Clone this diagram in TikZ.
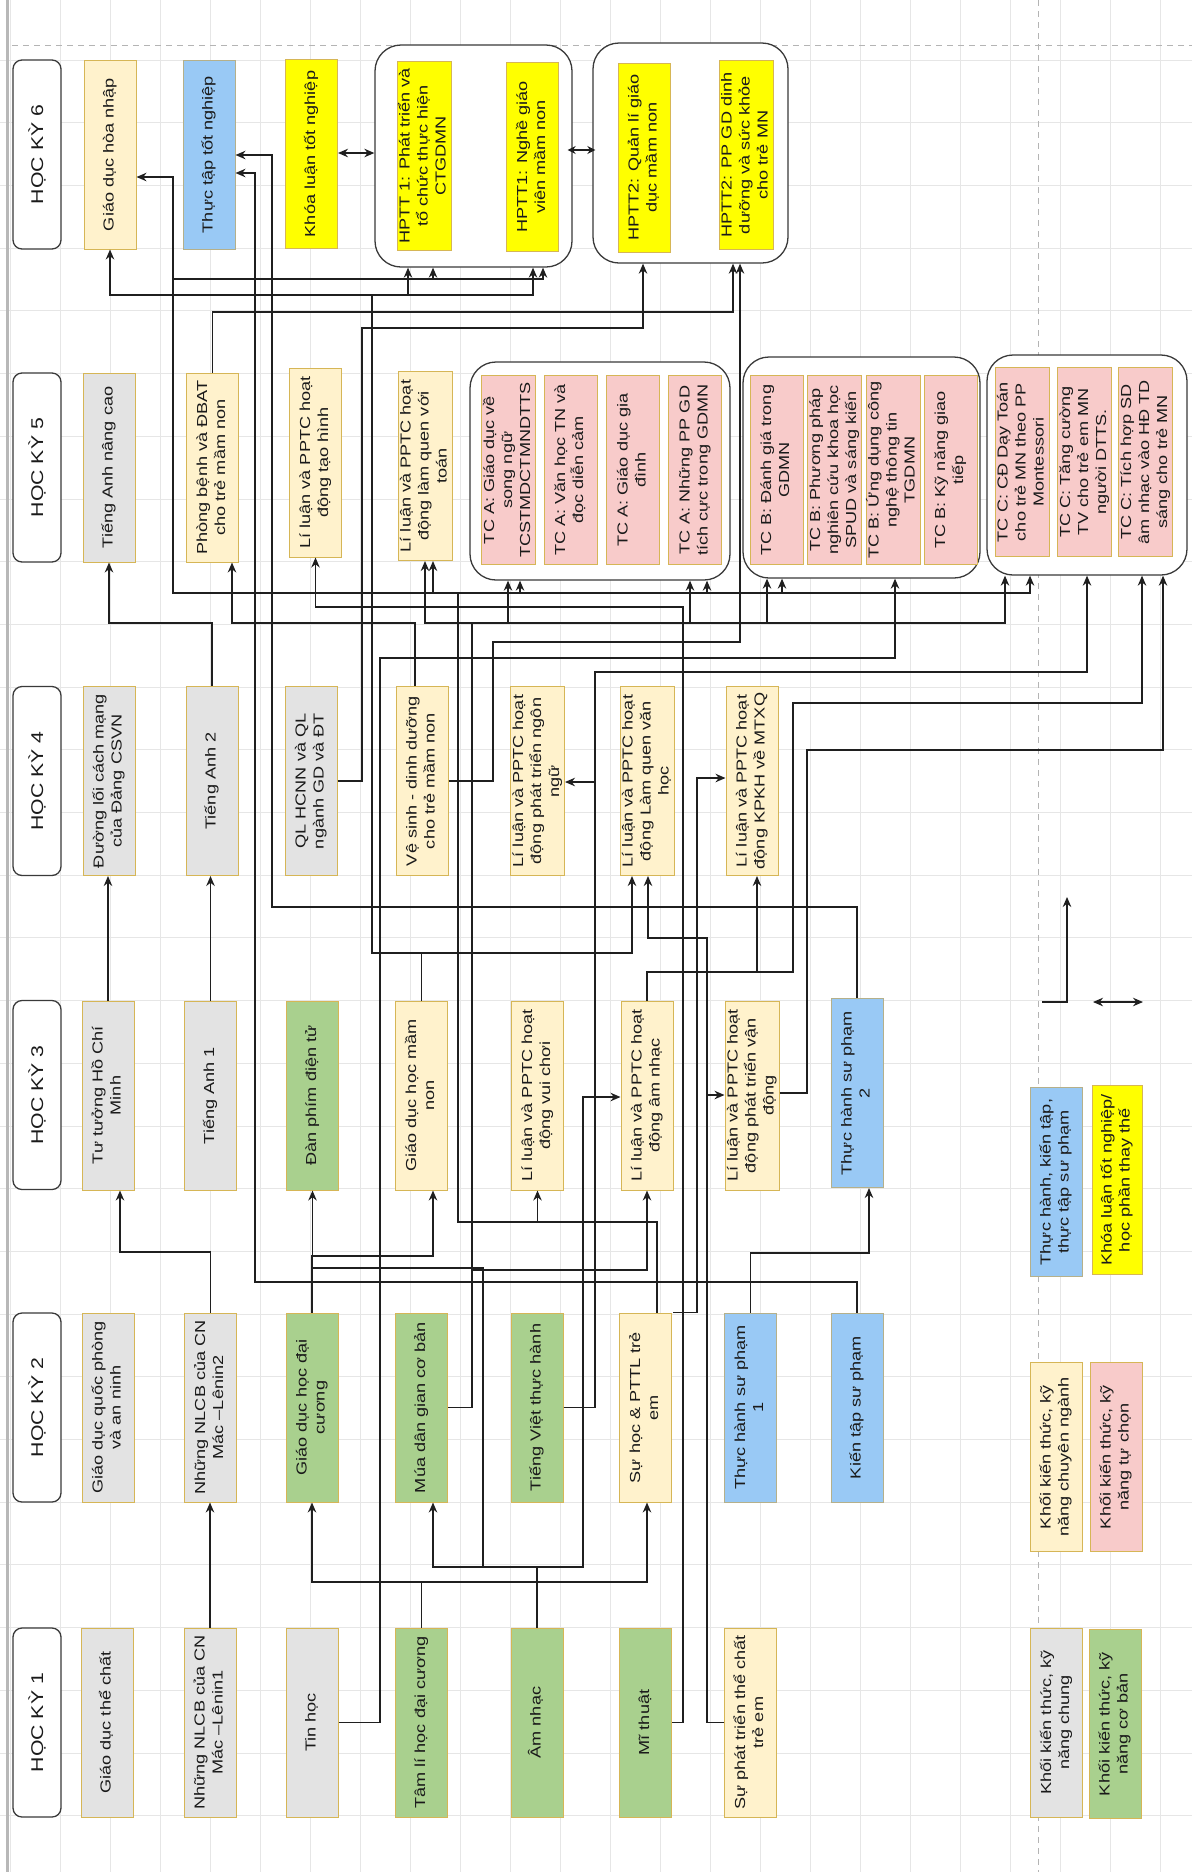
\documentclass[tikz,border=0pt]{standalone}
\usepackage{fontspec}
\setmainfont{Liberation Sans}[FakeStretch=1.25]
\usepackage{graphicx}
\usetikzlibrary{arrows.meta}

\definecolor{genc}{HTML}{E3E3E3}
\definecolor{basicc}{HTML}{A9D08E}
\definecolor{majorc}{HTML}{FFF2CC}
\definecolor{electc}{HTML}{F8CBCA}
\definecolor{pracc}{HTML}{99C9F5}
\definecolor{thesisc}{HTML}{FFFF00}
\definecolor{edgec}{HTML}{D6B656}
\definecolor{pracedge}{HTML}{B5B08A}
\definecolor{linec}{HTML}{1F1F1F}
\definecolor{framec}{HTML}{3A3A3A}
\definecolor{gridc}{HTML}{E6E6E6}
\definecolor{pagec}{HTML}{B4B4B4}
\definecolor{txtc}{HTML}{1A1A1A}

\newcommand{\vt}[1]{\rotatebox{90}{\begin{tabular}{@{}c@{}}#1\end{tabular}}}

\tikzset{
  course/.style={draw=edgec, line width=1pt, minimum width=52pt, minimum height=189pt,
    inner sep=0pt, text=txtc, font=\fontsize{14.5}{18}\selectfont},
  gen/.style={course, fill=genc},
  basic/.style={course, fill=basicc},
  major/.style={course, fill=majorc},
  elect/.style={course, fill=electc},
  prac/.style={course, fill=pracc, draw=pracedge},
  thesis/.style={course, fill=thesisc},
  sem/.style={draw=framec, fill=white, rounded corners=9pt, line width=1.3pt,
    minimum width=48pt, minimum height=189pt, inner sep=0pt, text=txtc,
    font=\fontsize{17}{20}\selectfont},
  grp/.style={draw=framec, fill=white, rounded corners=26pt, line width=1.3pt, inner sep=0pt},
  conn/.style={draw=linec, line width=1.4pt},
  arr/.style={conn, -{Stealth[length=10pt,width=8.5pt]}},
  darr/.style={conn, {Stealth[length=10pt,width=8.5pt]}-{Stealth[length=10pt,width=8.5pt]}},
  darrs/.style={conn, {Stealth[length=8pt,width=8pt]}-{Stealth[length=8pt,width=8pt]}},
}

\begin{document}
\begin{tikzpicture}[x=1pt,y=-1pt]

    \useasboundingbox (0,0) rectangle (1192,1872);
    \fill[white] (0,0) rectangle (1192,1872);

    % grid and page breaks
    \foreach \gx in {10,60,...,1160} \draw[gridc, line width=0.8pt] (\gx,0) -- (\gx,1872);
    \foreach \k in {0,...,30} \draw[gridc, line width=0.8pt] (0,{62.7*\k-2.7}) -- (1192,{62.7*\k-2.7});
    \draw[gridc!80!black, line width=3pt] (7,0) -- (7,1872);
    \draw[pagec, dash pattern=on 6pt off 5pt, line width=1pt] (12,45) -- (1192,45);
    \draw[pagec, dash pattern=on 6pt off 5pt, line width=1pt] (1038,0) -- (1038,1872);

    % semesters
    \node[sem] (hk6) at (37,154.5) {\rotatebox{90}{HỌC KỲ 6}};
    \node[sem] (hk5) at (37,467.5) {\rotatebox{90}{HỌC KỲ 5}};
    \node[sem] (hk4) at (37,781) {\rotatebox{90}{HỌC KỲ 4}};
    \node[sem] (hk3) at (37,1095) {\rotatebox{90}{HỌC KỲ 3}};
    \node[sem] (hk2) at (37,1407.5) {\rotatebox{90}{HỌC KỲ 2}};
    \node[sem] (hk1) at (37,1722.5) {\rotatebox{90}{HỌC KỲ 1}};

    % groups
    \node[grp, minimum width=197pt, minimum height=222pt] (g1) at (473.5,156) {};
    \node[grp, minimum width=195pt, minimum height=220pt] (g2) at (690.5,153) {};
    \node[grp, minimum width=260pt, minimum height=218pt] (gA) at (600,471) {};
    \node[grp, minimum width=237pt, minimum height=221pt] (gB) at (861.5,467.5) {};
    \node[grp, minimum width=200pt, minimum height=220pt] (gC) at (1087,465) {};

    % HK6
    \node[major] (gdhn) at (110,154.5) {\vt{Giáo dục hòa nhập}};
    \node[prac] (tttn) at (209,154.5) {\vt{Thực tập tốt nghiệp}};
    \node[thesis] (kltn) at (311.5,154) {\vt{Khóa luận tốt nghiệp}};
    \node[thesis] (hptt1a) at (424,156) {\vt{HPTT 1: Phát triển và\\tổ chức thực hiện\\CTGDMN}};
    \node[thesis] (hptt1b) at (532.5,157) {\vt{HPTT1: Nghề giáo\\viên mầm non}};
    \node[thesis] (hptt2a) at (644,157.5) {\vt{HPTT2: Quản lí giáo\\dục mầm non}};
    \node[thesis] (hptt2b) at (746,155) {\vt{HPTT2: PP GD dinh\\dưỡng và sức khỏe\\cho trẻ MN}};

    % HK5
    \node[gen] (tanc) at (109,467.5) {\vt{Tiếng Anh nâng cao}};
    \node[major] (phongbenh) at (212.5,467.5) {\vt{Phòng bệnh và ĐBAT\\cho trẻ mầm non}};
    \node[major] (taohinh) at (315.5,462.5) {\vt{Lí luận và PPTC hoạt\\động tạo hình}};
    \node[major] (lqtoan) at (425,466) {\vt{Lí luận và PPTC hoạt\\động làm quen với\\toán}};
    \node[elect, minimum width=53pt] (tca1) at (508.5,470) {\vt{TC A:  Giáo dục về\\song ngữ\\TCSTMDCTMNDTTS}};
    \node[elect, minimum width=53pt] (tca2) at (570.5,470) {\vt{TC A: Văn học TN và\\đọc diễn cảm}};
    \node[elect, minimum width=53pt] (tca3) at (633,470) {\vt{TC A: Giáo dục gia\\đình}};
    \node[elect, minimum width=53pt] (tca4) at (695,470) {\vt{TC A: Những PP GD\\tích cực trong GDMN}};
    \node[elect, minimum width=53pt] (tcb1) at (776.5,470) {\vt{TC B:  Đánh giá trong\\GDMN}};
    \node[elect, minimum width=53pt] (tcb2) at (834.5,470) {\vt{TC B: Phương pháp\\nghiên cứu khoa học\\SPUD và sáng kiến}};
    \node[elect, minimum width=53pt] (tcb3) at (893,470) {\vt{TC B: Ứng dụng công\\nghệ thông tin\\TGDMN}};
    \node[elect, minimum width=53pt] (tcb4) at (950.5,470) {\vt{TC B: Kỹ năng giao\\tiếp}};
    \node[elect, minimum width=53pt] (tcc1) at (1022,462) {\vt{TC C:  CĐ Dạy Toán\\cho trẻ MN theo PP\\Montessori}};
    \node[elect, minimum width=53pt] (tcc2) at (1084.5,462) {\vt{TC C: Tăng cường\\TV cho trẻ em MN\\người DTTS.}};
    \node[elect, minimum width=53pt] (tcc3) at (1145.5,462) {\vt{TC C: Tích hợp SD\\âm nhạc vào HĐ TD\\sáng cho trẻ MN}};

    % HK4
    \node[gen] (duongloi) at (109,781) {\vt{Đường lối cách mạng\\của Đảng CSVN}};
    \node[gen] (ta2) at (212,781) {\vt{Tiếng Anh 2}};
    \node[gen] (qlhcnn) at (311,781) {\vt{QL HCNN và QL\\ngành GD và ĐT}};
    \node[major] (vesinh) at (422,781) {\vt{Vệ sinh - dinh dưỡng\\cho trẻ mầm non}};
    \node[major] (ngonngu) at (537.5,781) {\vt{Lí luận và PPTC hoạt\\động phát triển ngôn\\ngữ}};
    \node[major] (vanhoc) at (647,781) {\vt{Lí luận và PPTC hoạt\\động Làm quen văn\\học}};
    \node[major] (kpkh) at (752,781) {\vt{Lí luận và PPTC hoạt\\động KPKH về MTXQ}};

    % HK3
    \node[gen] (tthcm) at (108,1095.5) {\vt{Tư tưởng Hồ Chí\\Minh}};
    \node[gen] (ta1) at (210.5,1095.5) {\vt{Tiếng Anh 1}};
    \node[basic] (danphim) at (312.5,1095.5) {\vt{Đàn phím điện tử}};
    \node[major] (gdhmn) at (421.5,1095.5) {\vt{Giáo dục học mầm\\non}};
    \node[major] (vuichoi) at (537.5,1095.5) {\vt{Lí luận và PPTC hoạt\\động vui chơi}};
    \node[major] (amnhacll) at (647,1095.5) {\vt{Lí luận và PPTC hoạt\\động âm nhạc}};
    \node[major] (vandong) at (752,1095.5) {\vt{Lí luận và PPTC hoạt\\động phát triển vận\\động}};
    \node[prac] (thsp2) at (857,1093) {\vt{Thực hành sư phạm\\2}};

    % HK2
    \node[gen] (gdqp) at (108,1407.5) {\vt{Giáo dục quốc phòng\\và an ninh}};
    \node[gen] (nlcb2) at (210.5,1407.5) {\vt{Những NLCB của CN\\Mác –Lênin2}};
    \node[basic] (gdhdc) at (312,1407.5) {\vt{Giáo dục học đại\\cương}};
    \node[basic] (muadg) at (421.5,1407.5) {\vt{Múa dân gian cơ bản}};
    \node[basic] (tvth) at (537,1407.5) {\vt{Tiếng Việt thực hành}};
    \node[major] (suhoc) at (645.5,1407.5) {\vt{Sự học \& PTTL trẻ\\em}};
    \node[prac] (thsp1) at (750.5,1407.5) {\vt{Thực hành sư phạm\\1}};
    \node[prac] (kientap) at (857,1407.5) {\vt{Kiến tập sư phạm}};

    % HK1
    \node[gen] (gdtc) at (107,1722.5) {\vt{Giáo dục thể chất}};
    \node[gen] (nlcb1) at (210,1722.5) {\vt{Những NLCB của CN\\Mác –Lênin1}};
    \node[gen] (tinhoc) at (312,1722.5) {\vt{Tin học}};
    \node[basic] (tamli) at (421.5,1722.5) {\vt{Tâm lí học đại cương}};
    \node[basic] (amnhac) at (537,1722.5) {\vt{Âm nhạc}};
    \node[basic] (mithuat) at (645.5,1722.5) {\vt{Mĩ thuật}};
    \node[major] (ptthechat) at (750.5,1722.5) {\vt{Sự phát triển thể chất\\trẻ em}};

    % legend
    \node[prac] (lgprac) at (1056,1182) {\vt{Thực hành, kiến tập,\\thực tập sư phạm}};
    \node[thesis, minimum width=50pt] (lgthesis) at (1117,1180) {\vt{Khóa luận tốt nghiệp/\\học phần thay thế}};
    \node[major] (lgmajor) at (1056,1457) {\vt{Khối kiến thức, kỹ\\năng chuyên ngành}};
    \node[elect] (lgelect) at (1116,1457) {\vt{Khối kiến thức, kỹ\\năng tự chọn}};
    \node[gen] (lggen) at (1056.5,1722.5) {\vt{Khối kiến thức, kỹ\\năng chung}};
    \node[basic] (lgbasic) at (1115,1724) {\vt{Khối kiến thức, kỹ\\năng cơ bản}};
    \coordinate (lgfoot) at (1042,1002);
    \coordinate (lgtip) at (1067,897);
    \coordinate (lgleft) at (1093,1002);
    \coordinate (lgright) at (1143,1002);
    \draw[arr] (lgfoot) -| (lgtip);
    \draw[darr] (lgleft) -- (lgright);

    % HK6 links
    \draw[darr] (kltn.east |- 0,153) -- (g1.west |- 0,153);
    \draw[darrs, shorten <=-5pt, shorten >=-3pt] (g1.east |- 0,150) -- (g2.west |- 0,150);

    % general courses
    \draw[arr] (tthcm.north) -- (tthcm.north |- duongloi.south);
    \draw[arr] (ta1.north) -- (ta1.north |- ta2.south);
    \draw[arr] (ta2.north) |- (0,623 -| tanc.south) -- (tanc.south);
    \draw[arr] (nlcb1.north) -- (nlcb1.north |- nlcb2.south);
    \draw[arr] (nlcb2.north) |- (120,1252) -- (120,0 |- tthcm.south);
    \draw[arr] (qlhcnn.east) -| (362,328) -| (643,0 |- g2.south);
    \draw[arr] (tinhoc.east) -| (380,658) -| (895,0 |- gB.south);

    % practice
    \draw[arr] (thsp1.north) |- (869,1253) -- (869,0 |- thsp2.south);
    \draw[arr] (kientap.north) |- (255,1282) -- (255,173) -- (tttn.east |- 0,173);
    \draw[arr] (thsp2.north) |- (272,907) -- (272,155) -- (tttn.east |- 0,155);

    % HK1 -> HK2, HK3
    \draw[arr] (tamli.north) |- (0,1582 -| gdhdc.south) -- (gdhdc.south);
    \draw[arr] (tamli.north) |- (647,1582) -- (647,0 |- suhoc.south);
    \draw[arr] (amnhac.north) |- (433,1567) -- (433,0 |- muadg.south);
    \draw[arr] (amnhac.north) |- (483,1567) -- (483,1268) -| (danphim.south);
    \draw[arr] (amnhac.north) |- (583,1567) -- (583,1097) -- (amnhacll.west |- 0,1097);
    \draw[arr] (mithuat.east) -| (683,607) -| (taohinh.south);
    \draw[arr] (ptthechat.west) -| (707,1095) -- (vandong.west |- 0,1095);
    \draw[arr] (ptthechat.west) -| (707,938) -| (648,0 |- vanhoc.south);

    % HK2 -> later
    \draw[arr] (gdhdc.north) |- (433,1256) -- (433,0 |- gdhmn.south);
    \draw[arr] (muadg.east) -| (472,1270) -| (amnhacll.south);
    \draw[arr] (muadg.east) -| (472,623) -| (425,0 |- lqtoan.south);
    \draw[arr] (muadg.east) -| (472,623) -| (508,0 |- gA.south);
    \draw[arr] (muadg.east) -| (472,623) -| (690,0 |- gA.south);
    \draw[arr] (muadg.east) -| (472,623) -| (767,0 |- gB.south);
    \draw[arr] (muadg.east) -| (472,623) -| (1005,0 |- gC.south);
    \draw[arr] (tvth.east) -| (595,782) -- (ngonngu.east |- 0,782);
    \draw[arr] (tvth.east) -| (595,672) -| (1087,0 |- gC.south);
    \draw[arr] (657,0 |- suhoc.north) |- (0,1222 -| vuichoi.south) -- (vuichoi.south);
    \draw[arr] (657,0 |- suhoc.north) |- (458,1222) -- (458,593) -| (173,177) -- (gdhn.east |- 0,177);
    \draw[arr] (657,0 |- suhoc.north) |- (458,1222) -- (458,593) -| (173,279) -| (433,0 |- g1.south);
    \draw[arr] (657,0 |- suhoc.north) |- (458,1222) -- (458,593) -| (173,279) -| (543,0 |- g1.south);
    \draw[arr] (657,0 |- suhoc.north) |- (458,1222) -- (458,593) -| (433,0 |- lqtoan.south);
    \draw[arr] (657,0 |- suhoc.north) |- (458,1222) -- (458,593) -| (520,0 |- gA.south);
    \draw[arr] (657,0 |- suhoc.north) |- (458,1222) -- (458,593) -| (707,0 |- gA.south);
    \draw[arr] (657,0 |- suhoc.north) |- (458,1222) -- (458,593) -| (782,0 |- gB.south);
    \draw[arr] (657,0 |- suhoc.north) |- (458,1222) -- (458,593) -| (1030,0 |- gC.south);
    \draw[arr] (673,0 |- suhoc.north) -| (697,778) -- (kpkh.west |- 0,778);

    % HK3 -> later
    \draw[arr] (gdhmn.north) |- (372,953) -- (372,295) -| (gdhn.south);
    \draw[arr] (gdhmn.north) |- (372,953) -- (372,295) -| (408,0 |- g1.south);
    \draw[arr] (gdhmn.north) |- (372,953) -- (372,295) -| (533,0 |- g1.south);
    \draw[arr] (gdhmn.north) |- (632,953) -- (632,0 |- vanhoc.south);
    \draw[arr] (amnhacll.north) |- (793,972) -- (793,703) -| (1142,0 |- gC.south);
    \draw[arr] (amnhacll.north) |- (757,972) -- (757,0 |- kpkh.south);
    \draw[arr] (vandong.east |- 0,1093) -| (807,750) -| (1163,0 |- gC.south);

    % HK4 -> later
    \draw[arr] (415,0 |- vesinh.north) |- (232,623) -- (232,0 |- phongbenh.south);
    \draw[arr] (vesinh.east) -| (493,642) -| (740,0 |- g2.south);
    \draw[arr] (phongbenh.north) |- (733,312) -- (733,0 |- g2.south);

\end{tikzpicture}
\end{document}
